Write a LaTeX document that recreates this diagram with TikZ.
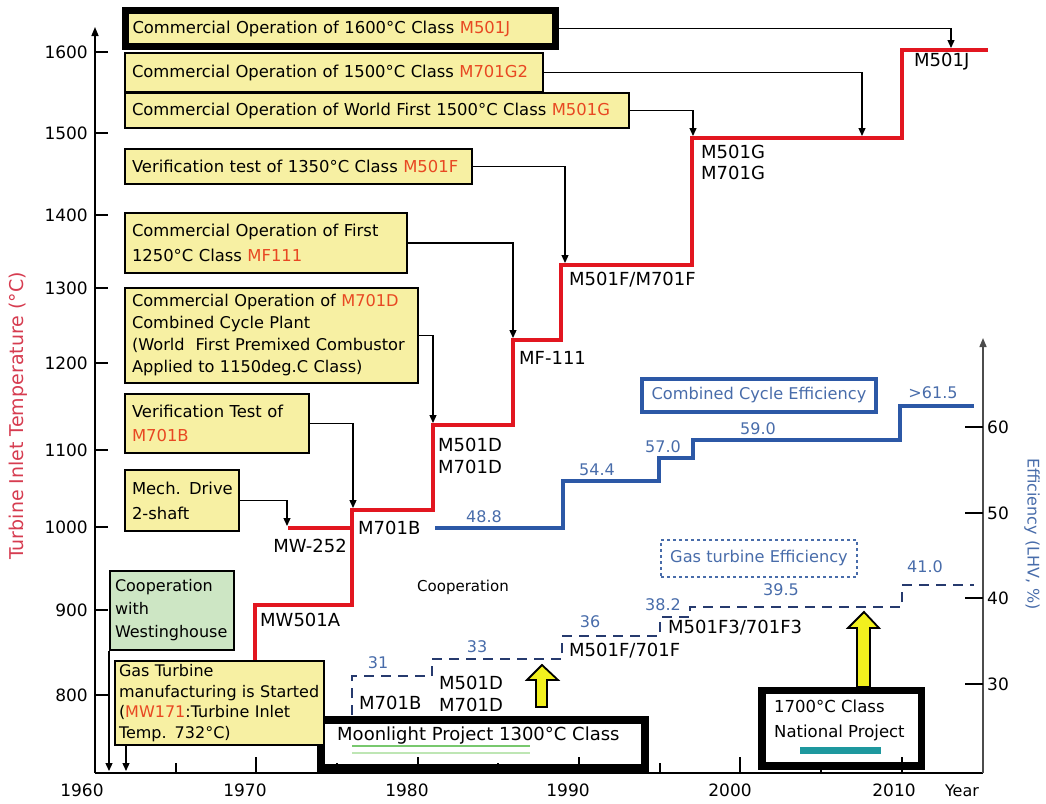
\documentclass[tikz,border=0pt]{standalone}
\usepackage{fontspec}
\setmainfont{DejaVu Sans}
\usetikzlibrary{arrows.meta}
\definecolor{cYellow}{RGB}{247,240,163}
\definecolor{cGreen}{RGB}{205,230,196}
\definecolor{cTred}{RGB}{226,22,32}
\definecolor{cRedtxt}{RGB}{232,72,34}
\definecolor{cAxred}{RGB}{214,60,80}
\definecolor{cCCblue}{RGB}{44,88,166}
\definecolor{cLblue}{RGB}{72,108,170}
\definecolor{cGTblue}{RGB}{38,58,110}
\definecolor{cTeal}{RGB}{30,152,158}
\definecolor{cArrow}{RGB}{242,240,30}
\definecolor{cMgreen}{RGB}{120,200,110}
\definecolor{cLgreen}{RGB}{190,230,180}
\newcommand{\rd}[1]{\textcolor{cRedtxt}{#1}}
\begin{document}
\begin{tikzpicture}[x=1pt,y=-1pt,
  ybox/.style={draw, line width=2pt, fill=cYellow, align=left, inner xsep=7pt, inner ysep=0pt, font=\fontsize{16.4}{22}\selectfont},
  lab/.style={font=\fontsize{18}{22}\selectfont, inner sep=0pt, anchor=west, align=left},
  blab/.style={font=\fontsize{16}{20}\selectfont, text=cLblue, inner sep=0pt},
  tlab/.style={font=\fontsize{17}{20}\selectfont, inner sep=0pt},
  conn/.style={line width=1.3pt, -{Triangle[length=8pt,width=7pt]}},
  redline/.style={cTred, line width=4pt},
  upar/.style={draw=black, line width=1.8pt, fill=cArrow, line join=miter}
]
\useasboundingbox (0,0) rectangle (1046,803);

% temperature steps
\draw[redline] (255,660) -- (255,605) -- (352,605) -- (352,510) -- (433,510) -- (433,425) -- (513,425) -- (513,340) -- (561,340) -- (561,265) -- (692,265) -- (692,138) -- (902,138) -- (902,50) -- (988,50);
\draw[redline] (288,528) -- (352,528);

% combined cycle efficiency
\draw[cCCblue, line width=4pt] (435,528) -- (563,528) -- (563,481) -- (659,481) -- (659,458) -- (693,458) -- (693,440) -- (900,440) -- (900,406) -- (974,406);
% gas turbine efficiency
\draw[cGTblue, line width=2.5pt, dash pattern=on 10pt off 7pt] (352,715) -- (352,676) -- (432,676) -- (432,659) -- (562,659) -- (562,636) -- (660,636) -- (660,617) -- (690,617) -- (690,607) -- (902,607) -- (902,585) -- (974,585);

% project boxes
\node[draw, line width=8pt, fill=white, minimum width=324pt, minimum height=47.5pt, inner sep=0pt] (moon) at (483,743.75) {};
\node[font=\fontsize{18}{22}\selectfont, anchor=west, inner sep=0pt] (moontxt) at (337,736) {Moonlight Project 1300°C Class};
\draw[cMgreen, line width=2.5pt] (352,746) -- (530,746);
\draw[cLgreen, line width=2.5pt] (352,753) -- (530,753);
\node[draw, line width=7.5pt, fill=white, minimum width=159.5pt, minimum height=75.5pt, inner sep=0pt] (nat) at (841.75,728.25) {};
\node[font=\fontsize{16.5}{25}\selectfont, anchor=west, align=left, inner sep=0pt] (nattxt) at (774,720.5) {1700°C Class\\National Project};
\draw[cTeal, line width=7pt] (800,750) -- (881,750);

% callout boxes
\node[ybox, line width=7pt, minimum width=430pt, minimum height=36pt, text width=416pt] (b1) at (340.5,28.5) {\mbox{Commercial Operation of 1600°C Class \rd{M501J}}};
\node[ybox, minimum width=418pt, minimum height=39pt, text width=404pt] (b2) at (334,72.5) {\mbox{Commercial Operation of 1500°C Class \rd{M701G2}}};
\node[ybox, minimum width=504pt, minimum height=35pt, text width=490pt] (b3) at (377,110.5) {\mbox{Commercial Operation of World First 1500°C Class \rd{M501G}}};
\node[ybox, minimum width=347pt, minimum height=35pt, text width=333pt] (b4) at (298.5,166.5) {\mbox{Verification test of 1350°C Class \rd{M501F}}};
\node[ybox, font=\fontsize{16.4}{25}\selectfont, minimum width=282pt, minimum height=60pt, text width=268pt] (b5) at (266,243) {\mbox{Commercial Operation of First}\\\mbox{1250°C Class \rd{MF111}}};
\node[ybox, font=\fontsize{16.2}{22}\selectfont, minimum width=293pt, minimum height=95pt, text width=279pt] (b6) at (271.5,335.5) {\mbox{Commercial Operation of \rd{M701D}}\\\mbox{Combined Cycle Plant}\\\mbox{(World\ \ First Premixed Combustor}\\\mbox{Applied to 1150deg.C Class)}};
\node[ybox, font=\fontsize{16.4}{24}\selectfont, minimum width=184pt, minimum height=59pt, text width=170pt] (b7) at (217,423.5) {\mbox{Verification Test of}\\\mbox{\rd{M701B}}};
\node[ybox, font=\fontsize{16.4}{25}\selectfont, minimum width=114pt, minimum height=61pt, text width=100pt] (b8) at (182,500.5) {\mbox{Mech. Drive}\\\mbox{2-shaft}};
\node[ybox, fill=cGreen, inner xsep=5pt, font=\fontsize{16}{23}\selectfont, minimum width=124pt, minimum height=79pt, text width=114pt] (green) at (172,610.5) {\mbox{Cooperation}\\\mbox{with}\\\mbox{Westinghouse}};
\node[ybox, inner xsep=4pt, font=\fontsize{16}{20.5}\selectfont, minimum width=209pt, minimum height=84pt, text width=201pt] (gtb) at (219.5,703) {\mbox{Gas Turbine}\\\mbox{manufacturing is Started}\\\mbox{(\rd{MW171}:Turbine Inlet}\\\mbox{Temp. 732°C)}};

% connectors
\coordinate (eJ) at (951,48);
\coordinate (eG2) at (862,136);
\coordinate (eG) at (693,136);
\coordinate (eF) at (565,263);
\coordinate (eMF) at (513,338);
\coordinate (eD) at (433,423);
\coordinate (eB) at (353,508);
\coordinate (e252) at (287,526);
\draw[conn] (b1.east) -| (eJ);
\draw[conn] (b2.east) -| (eG2);
\draw[conn] (b3.east) -| (eG);
\draw[conn] (b4.east) -| (eF);
\draw[conn] (b5.east) -| (eMF);
\draw[conn] (b6.east) -| (eD);
\draw[conn] (b7.east) -| (eB);
\draw[conn] (b8.east) -| (e252);
\coordinate (y61) at (109,771);
\coordinate (y62) at (126,771);
\draw[conn] (green.south west) -- (y61);
\draw[conn] (gtb.south -| y62) -- (y62);

% axes
\coordinate (O) at (95,773);
\coordinate (Ytop) at (95,27);
\coordinate (Xend) at (983,773);
\coordinate (Rtop) at (983,338);
\draw[line width=1.5pt, -{Triangle[length=9pt,width=7pt]}] (O) -- (Ytop);
\draw[line width=2pt] (O) -- (Xend);
\draw[line width=1.5pt, draw=black!70, -{Triangle[length=9pt,width=7pt]}] (Xend) -- (Rtop);
\foreach \v/\y in {1600/52,1500/133,1400/215,1300/288,1200/363,1100/450,1000/527,900/610,800/695}{
  \draw[line width=1.8pt] (95,\y) -- (108,\y);
  \node[tlab, anchor=east] (ly\v) at (88,\y) {\v};
}
\foreach \v/\y in {60/427,50/513,40/598,30/684}{
  \draw[line width=1.8pt] (965,\y) -- (983,\y);
  \node[tlab, anchor=west] (ry\v) at (987,\y) {\v};
}
\foreach \x in {256,418,579,740,902}{\draw[line width=1.8pt] (\x,757) -- (\x,773);}
\foreach \x in {176,337,498,660,821}{\draw[line width=1.8pt] (\x,763) -- (\x,773);}
\foreach \v/\x in {1960/82,1970/245,1980/407,1990/568,2000/730,2010/894}{
  \node[tlab] (yr\v) at (\x,790) {\v};
}
\node[tlab, font=\fontsize{16}{18}\selectfont] (yearlab) at (962,791) {Year};
\node[rotate=90, text=cAxred, font=\fontsize{19}{22}\selectfont, inner sep=0pt] (ytitle) at (18,416) {Turbine Inlet Temperature (°C)};
\node[rotate=-90, text=cLblue, font=\fontsize{16}{20}\selectfont, inner sep=0pt] (rtitle) at (1032,534) {Efficiency (LHV, \%)};

% up arrows
\draw[upar] (542,665) -- (558,680) -- (547,680) -- (547,707) -- (536,707) -- (536,680) -- (527,680) -- cycle;
\draw[upar] (864,612) -- (879,628) -- (870,628) -- (870,687) -- (857,687) -- (857,628) -- (848,628) -- cycle;

% model labels
\node[lab] (lMW501A) at (260,620) {MW501A};
\node[lab, anchor=center] (lMW252) at (310,546) {MW-252};
\node[lab] (lM701B) at (358,528) {M701B};
\node[lab, font=\fontsize{18}{22}\selectfont] (lM501D) at (438,456) {M501D\\M701D};
\node[lab] (lMF111) at (519,358) {MF-111};
\node[lab] (lM501F) at (569,280) {M501F/M701F};
\node[lab, font=\fontsize{18}{21}\selectfont] (lM501G) at (701,162.5) {M501G\\M701G};
\node[lab] (lM501J) at (914,62) {M501J};
\node[lab] (gM701B) at (359,703) {M701B};
\node[lab, font=\fontsize{18}{22}\selectfont] (gM501D) at (439,694) {M501D\\M701D};
\node[lab] (gM501F) at (569,651) {M501F/701F};
\node[lab] (gM501F3) at (668,628) {M501F3/701F3};
\node[font=\fontsize{15}{18}\selectfont, inner sep=0pt] (coop) at (463,587) {Cooperation};

% efficiency labels
\node[blab] (c488) at (484,517) {48.8};
\node[blab] (c544) at (597,470) {54.4};
\node[blab] (c570) at (663,447) {57.0};
\node[blab] (c590) at (758,429) {59.0};
\node[blab] (c615) at (933,393) {>61.5};
\node[blab] (g31) at (378,663) {31};
\node[blab] (g33) at (477,647) {33};
\node[blab] (g36) at (590,622) {36};
\node[blab] (g382) at (663,605) {38.2};
\node[blab] (g395) at (781,590) {39.5};
\node[blab] (g410) at (925,567) {41.0};

% legend boxes
\node[draw=cCCblue, line width=4pt, text=cLblue, font=\fontsize{16.2}{20}\selectfont, minimum width=234pt, minimum height=33pt, inner sep=0pt] (ccbox) at (759,395.5) {Combined Cycle Efficiency};
\node[draw=cLblue, line width=1.2pt, dash pattern=on 3pt off 3pt, text=cLblue, font=\fontsize{16.2}{20}\selectfont, minimum width=196pt, minimum height=37pt, inner sep=0pt] (gtbox) at (759,558.5) {Gas turbine Efficiency};
\end{tikzpicture}
\end{document}
